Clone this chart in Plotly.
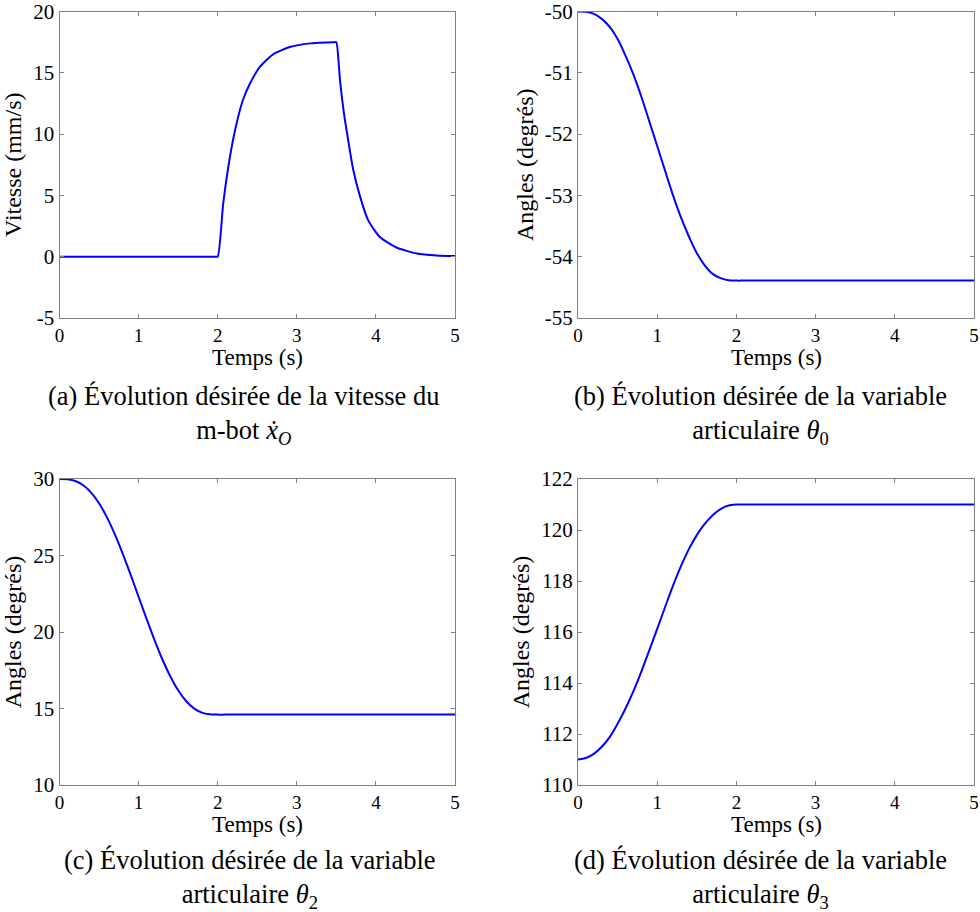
import plotly.graph_objects as go

# ---- data ----
# (a) vitesse du m-bot (mm/s)
t_a = [0.0, 1.0, 1.9, 1.97, 2.0, 2.07, 2.155, 2.24, 2.32, 2.41, 2.535, 2.70, 2.91, 3.17,
       3.40, 3.48, 3.50, 3.546, 3.596, 3.65, 3.714, 3.80, 3.90, 4.05, 4.26, 4.52,
       4.77, 5.0]
v_a = [0.0, 0.0, 0.0, 0.0, 0.0, 4.35, 8.15, 10.9, 12.8, 14.15, 15.5, 16.5, 17.1, 17.4,
       17.48, 17.5, 17.5, 14.4, 11.7, 9.5, 7.07, 4.9, 3.0, 1.6, 0.75, 0.26,
       0.10, 0.05]

# time samples for the joint trajectories (s)
t_j = [0.0, 0.1, 0.2, 0.3, 0.4, 0.5, 0.6, 0.7, 0.8, 0.9, 1.0, 1.1, 1.2, 1.3, 1.4,
       1.5, 1.6, 1.7, 1.8, 1.9, 2.0, 2.1, 2.5, 3.0, 4.0, 5.0]

# (b) theta_0 (degrés)
v_b = [-50.00, -50.005, -50.04, -50.12, -50.25, -50.45, -50.72, -51.03, -51.39, -51.79,
       -52.195, -52.60, -53.00, -53.36, -53.67, -53.94, -54.14, -54.28, -54.35, -54.385,
       -54.39, -54.39, -54.39, -54.39, -54.39, -54.39]

# (c) theta_2 (degrés)
v_c = [30.00, 29.98, 29.87, 29.59, 29.11, 28.41, 27.49, 26.38, 25.11, 23.73,
       22.30, 20.87, 19.49, 18.22, 17.11, 16.19, 15.49, 15.01, 14.73, 14.62,
       14.60, 14.60, 14.60, 14.60, 14.60, 14.60]

# (d) theta_3 (degrés)
v_d = [111.00, 111.06, 111.22, 111.50, 111.88, 112.40, 113.00, 113.68, 114.45, 115.28,
       116.12, 116.98, 117.82, 118.58, 119.25, 119.80, 120.24, 120.58, 120.82, 120.96,
       121.00, 121.00, 121.00, 121.00, 121.00, 121.00]

x_ticks = [0, 1, 2, 3, 4, 5]
y_ticks_a = [-5, 0, 5, 10, 15, 20]
y_ticks_b = [-55, -54, -53, -52, -51, -50]
y_ticks_c = [10, 15, 20, 25, 30]
y_ticks_d = [110, 112, 114, 116, 118, 120, 122]

x_title = "Temps (s)"
y_title_a = "Vitesse (mm/s)"
y_title_angles = "Angles (degrés)"

captions = [
    "(a) Évolution désirée de la vitesse du<br>m-bot <i>ẋ</i><sub><i>O</i></sub>",
    "(b) Évolution désirée de la variable<br>articulaire <i>θ</i><sub>0</sub>",
    "(c) Évolution désirée de la variable<br>articulaire <i>θ</i><sub>2</sub>",
    "(d) Évolution désirée de la variable<br>articulaire <i>θ</i><sub>3</sub>",
]

# ---- figure ----
W, H = 980, 912
FONT = "Liberation Serif"
BLUE = "#0000ff"
AX = "#808080"

x_left = [59.5 / W, 455 / W]
x_right = [578 / W, 974 / W]
y_top = [1 - 318 / H, 1 - 11.5 / H]
y_bot = [1 - 785 / H, 1 - 479 / H]

fig = go.Figure()
series = [(t_a, v_a, 0.6), (t_j, v_b, 1.0), (t_j, v_c, 1.0), (t_j, v_d, 1.0)]
for i, (tx, vy, sm) in enumerate(series):
    k = "" if i == 0 else str(i + 1)
    fig.add_trace(go.Scatter(x=tx, y=vy, mode="lines",
                             line=dict(color=BLUE, width=2, shape="spline", smoothing=sm),
                             xaxis="x" + k, yaxis="y" + k, showlegend=False))

def xaxis(dom, anchor):
    return dict(domain=dom, anchor=anchor, range=[0, 5], tickvals=x_ticks,
                ticktext=[str(v) for v in x_ticks], automargin=False,
                ticklabeloverflow="allow",
                showgrid=False, zeroline=False, showline=True, linecolor=AX,
                linewidth=1, mirror="ticks", ticks="inside", ticklen=4,
                tickcolor=AX, tickfont=dict(family=FONT, size=19, color="black"))

def yaxis(dom, anchor, rng, vals, title):
    return dict(domain=dom, anchor=anchor, range=rng, tickvals=vals,
                ticktext=[str(v) for v in vals], automargin=False,
                ticklabeloverflow="allow",
                showgrid=False, zeroline=False, showline=True, linecolor=AX,
                linewidth=1, mirror="ticks", ticks="inside", ticklen=4,
                tickcolor=AX, tickfont=dict(family=FONT, size=21, color="black"),
                title=dict(text=title, standoff=4,
                           font=dict(family=FONT, size=24, color="black")))

fig.update_layout(
    width=W, height=H, margin=dict(l=0, r=0, t=0, b=0, autoexpand=False),
    paper_bgcolor="white", plot_bgcolor="white",
    xaxis=xaxis(x_left, "y"), yaxis=yaxis(y_top, "x", [-5, 20], y_ticks_a, y_title_a),
    xaxis2=xaxis(x_right, "y2"), yaxis2=yaxis(y_top, "x2", [-55, -50], y_ticks_b, y_title_angles),
    xaxis3=xaxis(x_left, "y3"), yaxis3=yaxis(y_bot, "x3", [10, 30], y_ticks_c, y_title_angles),
    xaxis4=xaxis(x_right, "y4"), yaxis4=yaxis(y_bot, "x4", [110, 122], y_ticks_d, y_title_angles),
)

# x-axis titles (placed just under the tick labels)
xt_pos = [(257, 357), (776, 357), (257, 824), (776, 824)]
for cx, cy in xt_pos:
    fig.add_annotation(text=x_title, xref="paper", yref="paper", x=cx / W, y=1 - cy / H,
                       xanchor="center", yanchor="middle", showarrow=False,
                       font=dict(family=FONT, size=23, color="black"))

cap_pos = [(243, 415), (760, 415), (250, 879), (760, 879)]
for txt, (cx, cy) in zip(captions, cap_pos):
    fig.add_annotation(text=txt, xref="paper", yref="paper", x=cx / W, y=1 - cy / H,
                       xanchor="center", yanchor="middle", showarrow=False, align="center",
                       font=dict(family=FONT, size=26.5, color="black"))

fig.write_html("out.html", config={"displayModeBar": False},
               post_script="document.body.style.margin='0px';document.body.style.overflow='hidden';")
